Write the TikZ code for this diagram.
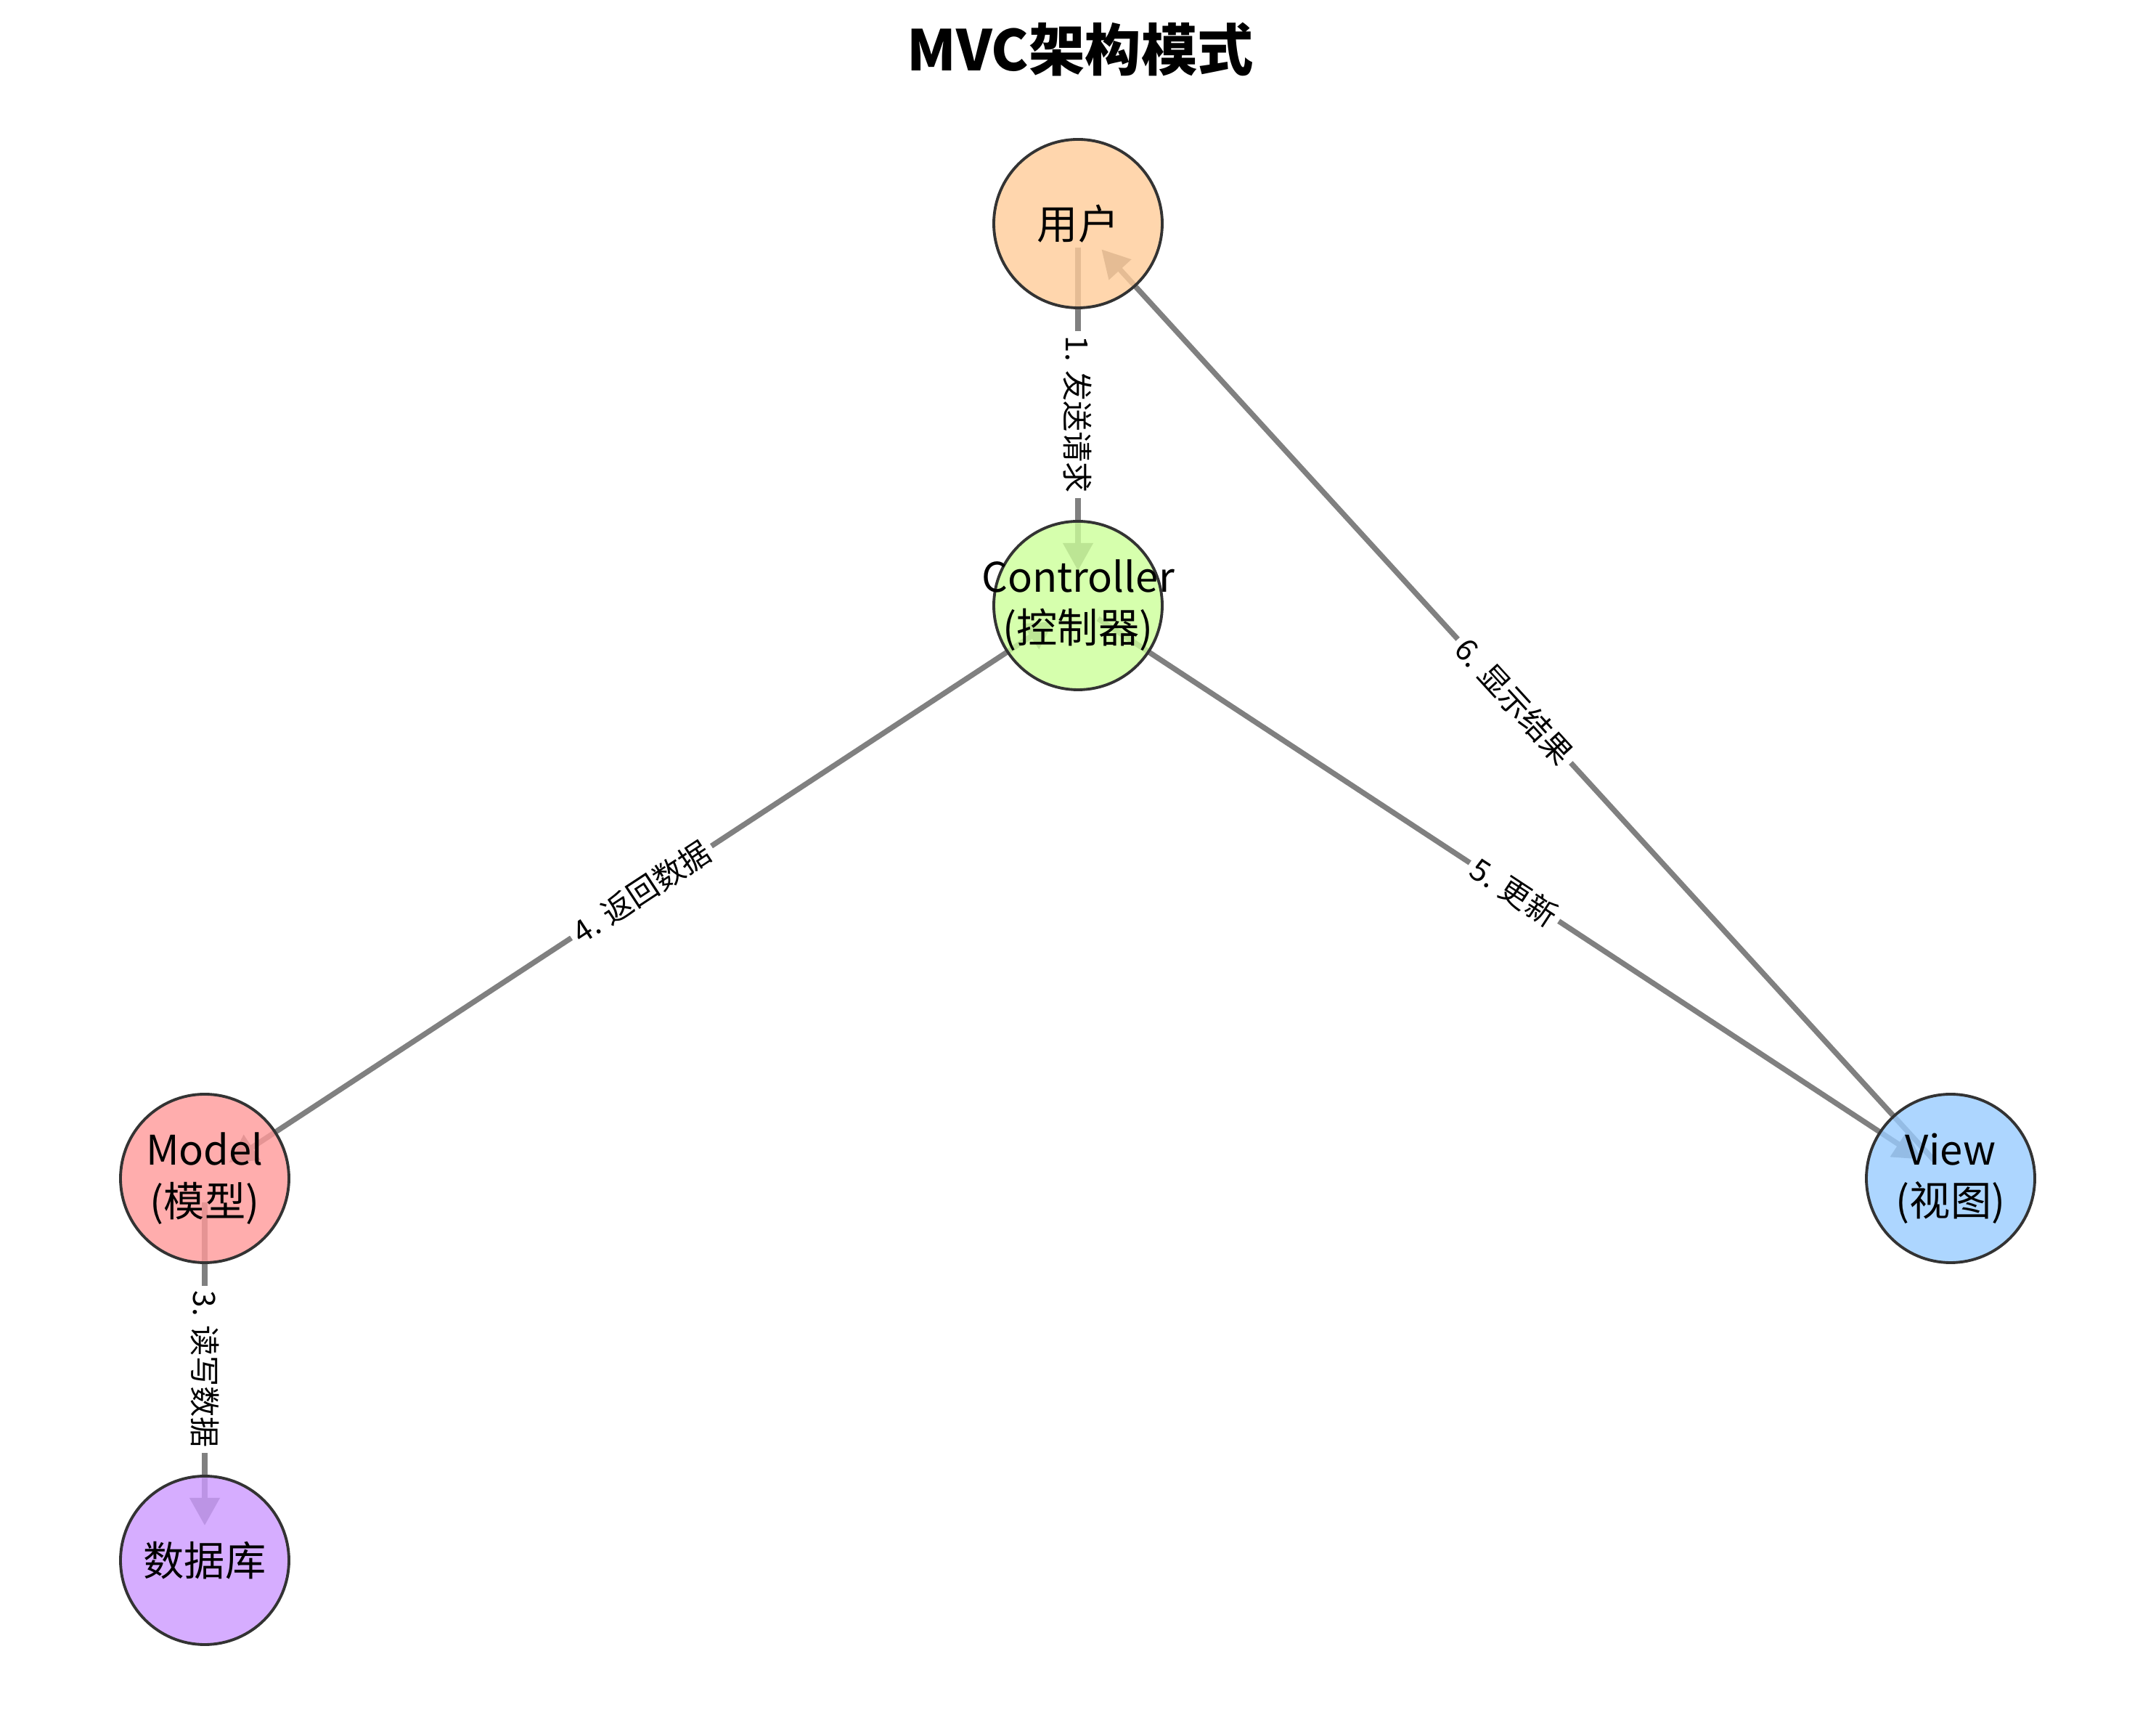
\documentclass[tikz,border=0pt]{standalone}
\usepackage{fontspec}
\setmainfont{Noto Sans CJK SC}
\usepackage{xcolor}
\usetikzlibrary{arrows.meta,positioning,backgrounds}

\definecolor{usercol}{HTML}{FFCC99}
\definecolor{ctrlcol}{HTML}{CCFF99}
\definecolor{modelcol}{HTML}{FF9999}
\definecolor{viewcol}{HTML}{99CCFF}
\definecolor{dbcol}{HTML}{CC99FF}

\begin{document}
\begin{tikzpicture}[
    >={Triangle[length=3.8mm,width=4mm]},
    component/.style={circle, draw=black!80, line width=1.1pt, fill opacity=0.8, text opacity=1, minimum size=2.32cm, inner sep=0pt},
    caption/.style={align=center, inner sep=0pt, font=\fontsize{16}{20}\selectfont},
    flow/.style={->, draw=black!50, line width=2.1pt, shorten <=3.3mm, shorten >=4.8mm},
    flowlabel/.style={fill=white, inner sep=2pt, font=\fontsize{12}{14}\selectfont, sloped, midway}
]
\useasboundingbox (0,0) rectangle (29.70,23.73);

% Title
\node[font=\fontsize{22}{26}\selectfont\bfseries] (title) at (14.88,23.05) {MVC架构模式};

% Components
\node[component, fill=usercol, label={[caption]center:用户}] (user) at (14.85,20.65) {};
\node[component, fill=ctrlcol, label={[caption]center:Controller\\(控制器)}] (ctrl) at (14.85,15.39) {};
\node[component, fill=modelcol, label={[caption]center:Model\\(模型)}] (model) at (2.82,7.50) {};
\node[component, fill=viewcol, label={[caption]center:View\\(视图)}] (view) at (26.87,7.50) {};
\node[component, fill=dbcol, label={[caption]center:数据库}] (db) at (2.82,2.24) {};

% Flows
\begin{scope}[on background layer]
\draw[flow] (user.center) -- node[flowlabel] {1. 发送请求} (ctrl.center);
\draw[flow, <->, shorten <=4mm, shorten >=4mm] (ctrl.center) -- node[flowlabel] {4. 返回数据} (model.center);
\draw[flow] (model.center) -- node[flowlabel] {3. 读写数据} (db.center);
\draw[flow] (ctrl.center) -- node[flowlabel] {5. 更新} (view.center);
\draw[flow] (view.center) -- node[flowlabel] {6. 显示结果} (user.center);
\end{scope}

\end{tikzpicture}
\end{document}
